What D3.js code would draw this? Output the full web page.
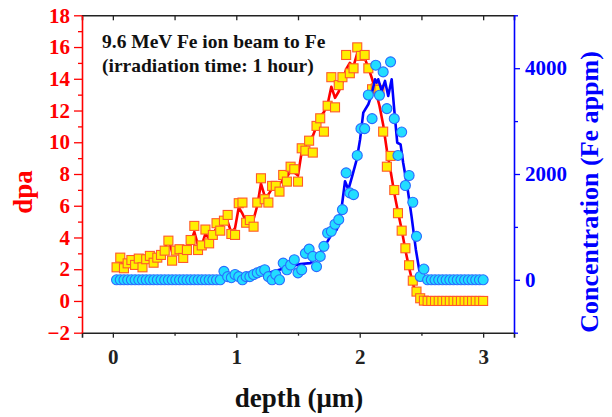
<!DOCTYPE html>
<html><head><meta charset="utf-8">
<script src="https://cdn.jsdelivr.net/npm/d3@7"></script>
<style>body{margin:0;background:#fff}svg{display:block}</style>
</head><body>
<svg id="c" width="612" height="417"></svg>
<script>
// ---------- data ----------
const depthStep = 0.03; // µm grid of the measured/calculated points
const dpaPoints = [2.12,2.73,2.06,2.37,2.58,2.27,2.67,2.12,2.63,2.84,2.41,2.73,2.9,3.17,3.8,2.54,3.17,3.26,2.71,3.21,
  3.84,4.73,3.21,3.5,4.5,3.63,4.16,4.9,4.43,5.06,5.42,4.22,4.16,6.16,6.2,4.93,5.1,4.68,6.2,7.73,
  6.41,6.2,7.25,7.25,6.89,7.94,7.52,8.46,8.3,7.52,9.62,9.47,10.1,9.35,11.03,11.51,10.67,12.3,14.1,12.2,
  13.6,14.1,15.5,14.35,14.66,15.98,15.44,15.5,14.66,13.34,13.4,13.3,10.67,8.46,9.14,6.99,5.53,4.43,3.32,2.25,
  1.28,0.59,0.17,0.02,0,0,0,0,0,0,0,0,0,0,0,0,0,0,0,0];
const dpaLine = [2.2,2.4,2.3,2.4,2.5,2.45,2.55,2.5,2.65,2.75,2.7,2.85,3.0,3.3,3.9,3.1,3.3,3.35,3.25,3.4,
  3.7,4.35,3.5,3.5,4.25,3.9,4.2,4.6,4.6,4.9,5.0,4.3,4.6,5.9,5.5,5.0,5.1,5.15,6.0,7.4,
  6.6,6.7,7.1,7.2,7.4,7.6,7.8,8.2,8.1,7.9,9.4,9.8,10.1,10.4,11.0,11.6,11.9,12.4,13.5,12.8,
  13.2,13.8,14.6,15.0,14.8,15.6,15.4,15.3,14.7,14.0,13.2,12.3,11.1,9.5,8.2,6.8,5.6,4.5,3.2,2.1,
  1.1,0.4,0.05,0,0,0,0,0,0,0,0,0,0,0,0,0,0,0,0,0];
const concPoints = [0,0,0,0,0,0,0,0,0,0,0,0,0,0,0,0,0,0,0,0,
  0,0,0,0,0,0,0,0,0,160,60,40,100,60,0,60,60,100,130,160,
  190,60,0,100,0,316,190,280,380,130,190,500,580,442,250,442,632,885,916,1050,
  1137,1327,2022,1643,1611,2351,2857,2857,3494,3046,4057,3488,3930,3236,4120,3046,2351,2793,1782,1972,
  1466,821,63,203,0,0,0,0,0,0,0,0,0,0,0,0,0,0,0,0];
const concLineDepth = [0.03,0.87,0.90,0.95,1.03,1.11,1.19,1.27,1.35,1.44,1.52,1.60,1.66,1.72,1.77,1.814,1.855,1.881,1.908,1.938,
  1.976,2.003,2.029,2.070,2.097,2.124,2.137,2.150,2.178,2.205,2.231,2.259,2.277,2.304,2.331,2.352,2.385,2.420,2.455,2.482,2.501,2.520,3.0];
const concLine = [0,0,30,50,70,90,120,140,190,250,300,316,450,650,850,948,1390,1864,1706,1950,
  2275,2654,3160,3318,3507,3791,3729,3791,3570,3760,3475,3791,3286,2591,2559,2212,1769,1200,569,190,63,0,0];
const xTicks = [0,1,2,3];
const dpaTicks = [-2,0,2,4,6,8,10,12,14,16,18];
const concTicks = [0,2000,4000];
const annotation = ["9.6 MeV Fe ion beam to Fe", "(irradiation time: 1 hour)"];

// ---------- layout ----------
const L = 82, R = 514, T = 15.3, B = 332.7;
const svg = d3.select("#c");
const font = "'Liberation Serif','Times New Roman',serif";
const x = d3.scaleLinear().domain([-0.25, 3.25]).range([L, R]);
const yL = d3.scaleLinear().domain([-2, 18]).range([B, T]);
const yR = d3.scaleLinear().domain([-1000, 5000]).range([B, T]);

const depths = dpaPoints.map((_, i) => +(depthStep * (i + 1)).toFixed(2));

// axes helpers
function styleAxis(g, color, size, weight) {
  g.selectAll("path.domain").attr("stroke", color).attr("stroke-width", 1.6);
  g.selectAll("line").attr("stroke", color).attr("stroke-width", 1.3);
  g.selectAll("text").attr("fill", color).attr("font-family", font)
   .attr("font-size", size).attr("font-weight", "bold");
}
// minor ticks
const gx = svg.append("g").attr("transform", `translate(0,${B})`)
  .call(d3.axisBottom(x).tickValues(xTicks).tickSize(5).tickPadding(11).tickFormat(d3.format("d")));
styleAxis(gx, "#222", 21);
svg.append("g").attr("transform", `translate(0,${B})`)
  .call(d3.axisBottom(x).tickValues([0.5,1.5,2.5]).tickSize(3).tickFormat("")).call(g => { g.select(".domain").remove(); g.selectAll("line").attr("stroke","#222").attr("stroke-width",1.3); });
const gt = svg.append("g").attr("transform", `translate(0,${T})`)
  .call(d3.axisBottom(x).tickValues([0,0.5,1,1.5,2,2.5,3]).tickSizeOuter(0).tickSize(5).tickFormat(""));
gt.selectAll("line").attr("stroke", "#222").attr("stroke-width", 1.3);
gt.select(".domain").attr("stroke", "#222").attr("stroke-width", 1.6);

const gl = svg.append("g").attr("transform", `translate(${L},0)`)
  .call(d3.axisLeft(yL).tickValues(dpaTicks).tickSize(8).tickPadding(4).tickSizeOuter(0).tickFormat(d3.format("d")));
styleAxis(gl, "#ff0000", 21);
svg.append("g").attr("transform", `translate(${L},0)`)
  .call(d3.axisLeft(yL).tickValues(d3.range(-1, 18, 2)).tickSize(4).tickFormat(""))
  .call(g => { g.select(".domain").remove(); g.selectAll("line").attr("stroke","#ff0000").attr("stroke-width",1.3); });

const gr = svg.append("g").attr("transform", `translate(${R},0)`)
  .call(d3.axisRight(yR).tickValues(concTicks).tickSize(6).tickPadding(5).tickSizeOuter(0).tickFormat(d3.format("d")));
styleAxis(gr, "#0000ff", 21);
svg.append("g").attr("transform", `translate(${R},0)`)
  .call(d3.axisRight(yR).tickValues([-1000,1000,3000,5000]).tickSize(4).tickFormat(""))
  .call(g => { g.select(".domain").remove(); g.selectAll("line").attr("stroke","#0000ff").attr("stroke-width",1.3); });

// ---------- series ----------
const clip = svg.append("clipPath").attr("id","pc").append("rect").attr("x",L).attr("y",T).attr("width",R-L).attr("height",B-T);
const plot = svg.append("g");

plot.append("path").datum(dpaLine.map((v, i) => [depths[i], v]))
  .attr("fill", "none").attr("stroke", "#ff0000").attr("stroke-width", 2.6).attr("stroke-linejoin","round")
  .attr("d", d3.line().x(d => x(d[0])).y(d => yL(d[1])));

plot.append("g").selectAll("rect").data(dpaPoints.map((v, i) => [depths[i], v])).join("rect")
  .attr("x", d => x(d[0]) - 4.5).attr("y", d => yL(d[1]) - 4.5).attr("width", 9).attr("height", 9)
  .attr("fill", "#ffee00").attr("stroke", "#ff5a2a").attr("stroke-width", 1.1);

plot.append("path").datum(concLine.map((v, i) => [concLineDepth[i], v]))
  .attr("fill", "none").attr("stroke", "#0000ff").attr("stroke-width", 2.6).attr("stroke-linejoin","round")
  .attr("d", d3.line().x(d => x(d[0])).y(d => yR(d[1])));

plot.append("g").selectAll("circle").data(concPoints.map((v, i) => [depths[i], v])).join("circle")
  .attr("cx", d => x(d[0])).attr("cy", d => yR(d[1])).attr("r", 5)
  .attr("fill", "#22ddff").attr("stroke", "#2a6cff").attr("stroke-width", 1.1);

// ---------- titles ----------
svg.append("text").attr("x", (L+R)/2 + 1).attr("y", 407).attr("text-anchor","middle")
  .attr("font-family", font).attr("font-size", 27).attr("font-weight","bold").attr("fill","#111")
  .text("depth (μm)");
svg.append("text").attr("transform", "translate(32,192) rotate(-90)").attr("text-anchor","middle")
  .attr("font-family", font).attr("font-size", 27).attr("font-weight","bold").attr("fill","#ff0000")
  .text("dpa");
svg.append("text").attr("transform", "translate(598,192) rotate(-90)").attr("text-anchor","middle")
  .attr("font-family", font).attr("font-size", 26).attr("font-weight","bold").attr("fill","#0000ff")
  .text("Concentration (Fe appm)");
annotation.forEach((t, i) => {
  svg.append("text").attr("x", 102).attr("y", 48 + i * 23.5)
    .attr("font-family", font).attr("font-size", 19.5).attr("font-weight","bold").attr("fill","#111")
    .text(t);
});
</script>
</body></html>
